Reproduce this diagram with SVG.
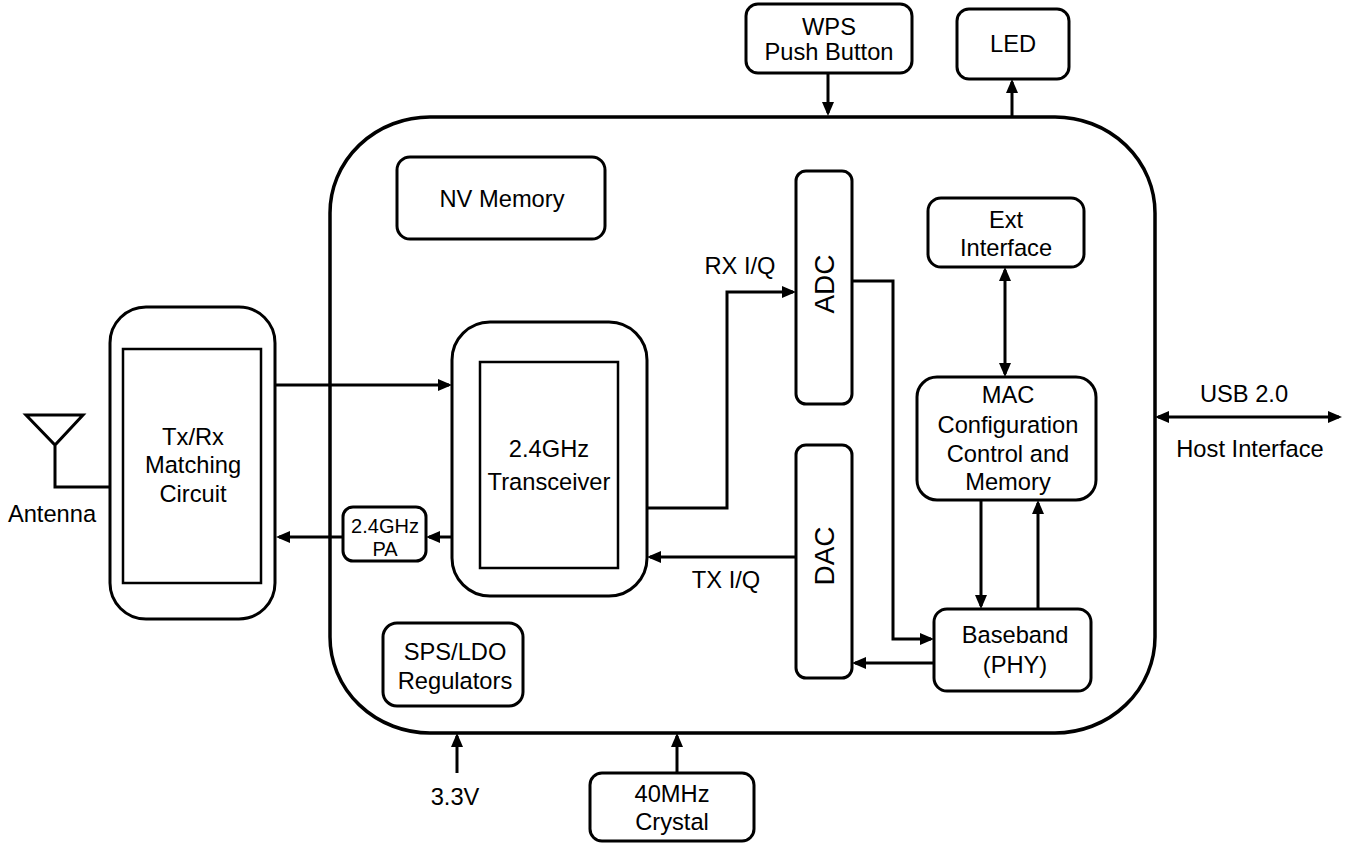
<svg xmlns="http://www.w3.org/2000/svg" width="1351" height="843" viewBox="0 0 1351 843">
<style>
.box{fill:#fff;stroke:#000;stroke-width:3}
.inner{fill:none;stroke:#000;stroke-width:2.5}
.main{fill:#fff;stroke:#000;stroke-width:3.5}
.ln{fill:none;stroke:#000;stroke-width:3}
.ar{marker-end:url(#ah)}
.dar{marker-start:url(#ah);marker-end:url(#ah)}
text{font-family:"Liberation Sans",Arial,Helvetica,sans-serif;font-size:23.7px;fill:#000;text-anchor:middle}
.sm{font-size:20px}
.big{font-size:28px}
</style>
<defs>
<marker id="ah" viewBox="0 0 14 12" refX="11" refY="6" markerWidth="14" markerHeight="12" markerUnits="userSpaceOnUse" orient="auto-start-reverse">
<path d="M0,0 L14,6 L0,12 z" fill="#000"/>
</marker>
</defs>
<g id="main-chip"><rect class="main" x="330" y="117" width="825" height="616" rx="100" ry="96"/></g>
<g id="wps"><rect class="box" x="746" y="4" width="166" height="69" rx="12"/><text x="829" y="35">WPS</text><text x="829" y="60">Push Button</text></g>
<g id="led"><rect class="box" x="957" y="9" width="112" height="70" rx="12"/><text x="1013" y="52">LED</text></g>
<g id="nv-memory"><rect class="box" x="397" y="157" width="208" height="82" rx="13"/><text x="502" y="207">NV Memory</text></g>
<g id="adc"><rect class="box" x="796" y="171" width="56" height="233" rx="10"/><text class="big" transform="translate(834,284) rotate(-90)">ADC</text></g>
<g id="dac"><rect class="box" x="796" y="445" width="56" height="233" rx="10"/><text class="big" transform="translate(834,556) rotate(-90)">DAC</text></g>
<g id="ext-interface"><rect class="box" x="928" y="198" width="156" height="69" rx="13"/><text x="1006" y="228">Ext</text><text x="1006" y="256">Interface</text></g>
<g id="mac"><rect class="box" x="917" y="377" width="179" height="123" rx="20"/><text x="1008" y="403">MAC</text><text x="1008" y="433">Configuration</text><text x="1008" y="462">Control and</text><text x="1008" y="490">Memory</text></g>
<g id="baseband"><rect class="box" x="934" y="609" width="157" height="82" rx="13"/><text x="1015" y="643">Baseband</text><text x="1015" y="673">(PHY)</text></g>
<g id="transceiver"><rect class="box" x="452" y="322" width="195" height="274" rx="38"/><rect class="inner" x="480" y="362" width="138" height="206"/><text x="549" y="457">2.4GHz</text><text x="549" y="490">Transceiver</text></g>
<g id="txrx-matching"><rect class="box" x="110" y="307" width="165" height="312" rx="36"/><rect class="inner" x="123" y="349" width="138" height="234"/><text x="193" y="445">Tx/Rx</text><text x="193" y="473">Matching</text><text x="193" y="502">Circuit</text></g>
<g id="pa"><rect class="box" x="343" y="507" width="83" height="54" rx="10"/><text class="sm" x="385" y="533">2.4GHz</text><text class="sm" x="385" y="556">PA</text></g>
<g id="sps-ldo"><rect class="box" x="383" y="623" width="140" height="83" rx="14"/><text x="455" y="660">SPS/LDO</text><text x="455" y="689">Regulators</text></g>
<g id="crystal"><rect class="box" x="590" y="773" width="164" height="68" rx="12"/><text x="672" y="802">40MHz</text><text x="672" y="830">Crystal</text></g>
<g id="antenna"><path class="ln" d="M26,415 L83,415 L55,445 Z M55,445 L55,487 L110,487"/><text x="52" y="522">Antenna</text></g>
<g id="labels"><text x="740" y="274">RX I/Q</text><text x="726" y="588">TX I/Q</text><text x="1244" y="402">USB 2.0</text><text x="1250" y="457">Host Interface</text><text x="455" y="805">3.3V</text></g>
<g id="connectors">
<path class="ln ar" d="M828,73 L828,113"/>
<path class="ln ar" d="M1012,117 L1012,82"/>
<path class="ln ar" d="M275,385 L449,385"/>
<path class="ln ar" d="M452,537 L429,537"/>
<path class="ln ar" d="M343,537 L279,537"/>
<path class="ln ar" d="M647,508 L727,508 L727,292 L793,292"/>
<path class="ln ar" d="M796,557 L650,557"/>
<path class="ln ar" d="M852,281 L893,281 L893,639 L931,639"/>
<path class="ln ar" d="M934,663 L855,663"/>
<path class="ln dar" d="M1005,270 L1005,374"/>
<path class="ln ar" d="M981,500 L981,606"/>
<path class="ln ar" d="M1038,609 L1038,503"/>
<path class="ln dar" d="M1158,417 L1339,417"/>
<path class="ln ar" d="M457,773 L457,736"/>
<path class="ln ar" d="M677,773 L677,736"/>
</g>
</svg>
